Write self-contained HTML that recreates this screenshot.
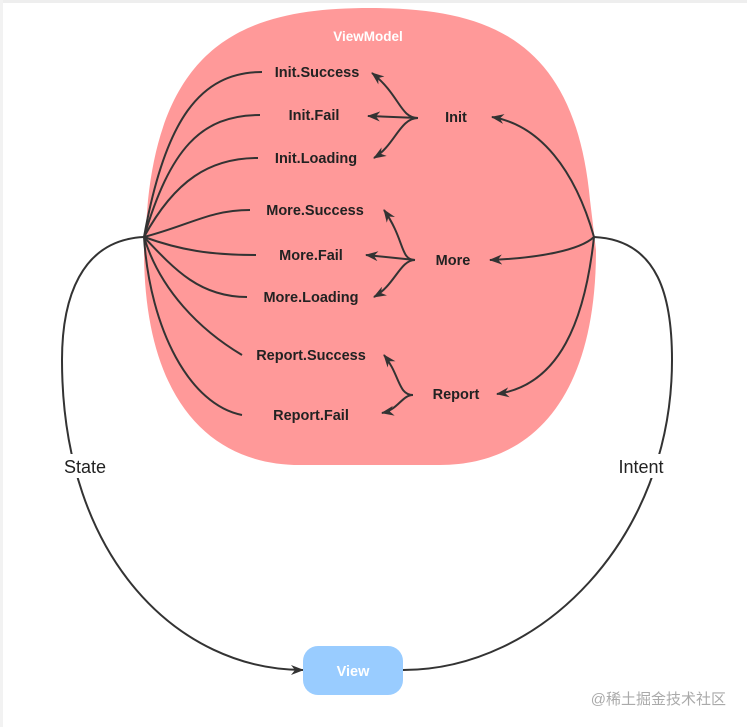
<!DOCTYPE html>
<html><head><meta charset="utf-8"><style>
html,body{margin:0;padding:0;background:#fff;}
svg{display:block;}
.b{font-family:"Liberation Sans","Noto Sans CJK SC",sans-serif;font-weight:bold;font-size:14.5px;fill:#222;}
</style></head><body>
<svg width="747" height="727" viewBox="0 0 747 727" xmlns="http://www.w3.org/2000/svg">
<defs><marker id="a" markerWidth="13" markerHeight="10" refX="12" refY="5" orient="auto" markerUnits="userSpaceOnUse"><path d="M0,0 L13,5 L0,10 L4,5 Z" fill="#333"/></marker></defs>
<rect x="0" y="0" width="747" height="3" fill="#eee"/>
<rect x="0" y="0" width="3" height="727" fill="#f2f2f2"/>
<path d="M370,8 C490,8 575,40 590,200 L596,250 C596,400 530,465 440,465 L300,465 C210,465 144,400 144,250 L148,200 C165,40 250,8 370,8 Z" fill="#ff9999"/>
<text x="368" y="41" text-anchor="middle" class="b" style="fill:#fff;font-size:13.5px">ViewModel</text>
<g fill="none" stroke="#333" stroke-width="2">
<path d="M144,237 C165,120 200,72 262,72"/>
<path d="M144,237 C170,150 200,115 260,115"/>
<path d="M144,237 C175,180 210,158 258,158"/>
<path d="M144,237 C190,225 210,210 250,210"/>
<path d="M144,237 C180,250 210,255 256,255"/>
<path d="M144,237 C175,270 200,297 247,297"/>
<path d="M144,237 C160,290 200,330 242,355"/>
<path d="M144,237 C150,330 190,405 242,415"/>
<path d="M418,118 C400,118 400,95 372,73" marker-end="url(#a)"/>
<path d="M418,118 L368,116" marker-end="url(#a)"/>
<path d="M418,118 C400,118 395,145 374,158" marker-end="url(#a)"/>
<path d="M415,260 C400,260 405,240 384,210" marker-end="url(#a)"/>
<path d="M415,260 L366,255" marker-end="url(#a)"/>
<path d="M415,260 C400,260 395,285 374,297" marker-end="url(#a)"/>
<path d="M413,395 C398,395 400,375 384,355" marker-end="url(#a)"/>
<path d="M413,395 C402,395 398,410 382,413" marker-end="url(#a)"/>
<path d="M594,237 C575,170 540,125 492,117" marker-end="url(#a)"/>
<path d="M594,237 C580,250 540,258 490,260" marker-end="url(#a)"/>
<path d="M594,237 C585,320 560,385 497,394" marker-end="url(#a)"/>
<path d="M144,237 C80,240 62,300 62,360 C62,560 180,670 303,670" marker-end="url(#a)"/>
<path d="M594,237 C660,240 672,300 672,360 C672,540 540,670 403,670"/>
</g>
<g class="b" text-anchor="middle">
<text x="317" y="77">Init.Success</text>
<text x="314" y="120">Init.Fail</text>
<text x="316" y="163">Init.Loading</text>
<text x="315" y="215">More.Success</text>
<text x="311" y="260">More.Fail</text>
<text x="311" y="302">More.Loading</text>
<text x="311" y="360">Report.Success</text>
<text x="311" y="420">Report.Fail</text>
<text x="456" y="122">Init</text>
<text x="453" y="265">More</text>
<text x="456" y="399">Report</text>
</g>
<rect x="58" y="454" width="55" height="24" fill="#fff"/>
<rect x="610" y="454" width="62" height="24" fill="#fff"/>
<text x="85" y="473" text-anchor="middle" style="font-family:'Liberation Sans',sans-serif;font-size:18px;fill:#222">State</text>
<text x="641" y="473" text-anchor="middle" style="font-family:'Liberation Sans',sans-serif;font-size:18px;fill:#222">Intent</text>
<rect x="303" y="646" width="100" height="49" rx="15" fill="#99ccff"/>
<text x="353" y="676" text-anchor="middle" class="b" style="fill:#fff">View</text>
<text x="726" y="704" text-anchor="end" style="font-family:'Liberation Sans','Noto Sans CJK SC',sans-serif;font-size:15px;fill:#aaa">@稀土掘金技术社区</text>
</svg>
</body></html>
